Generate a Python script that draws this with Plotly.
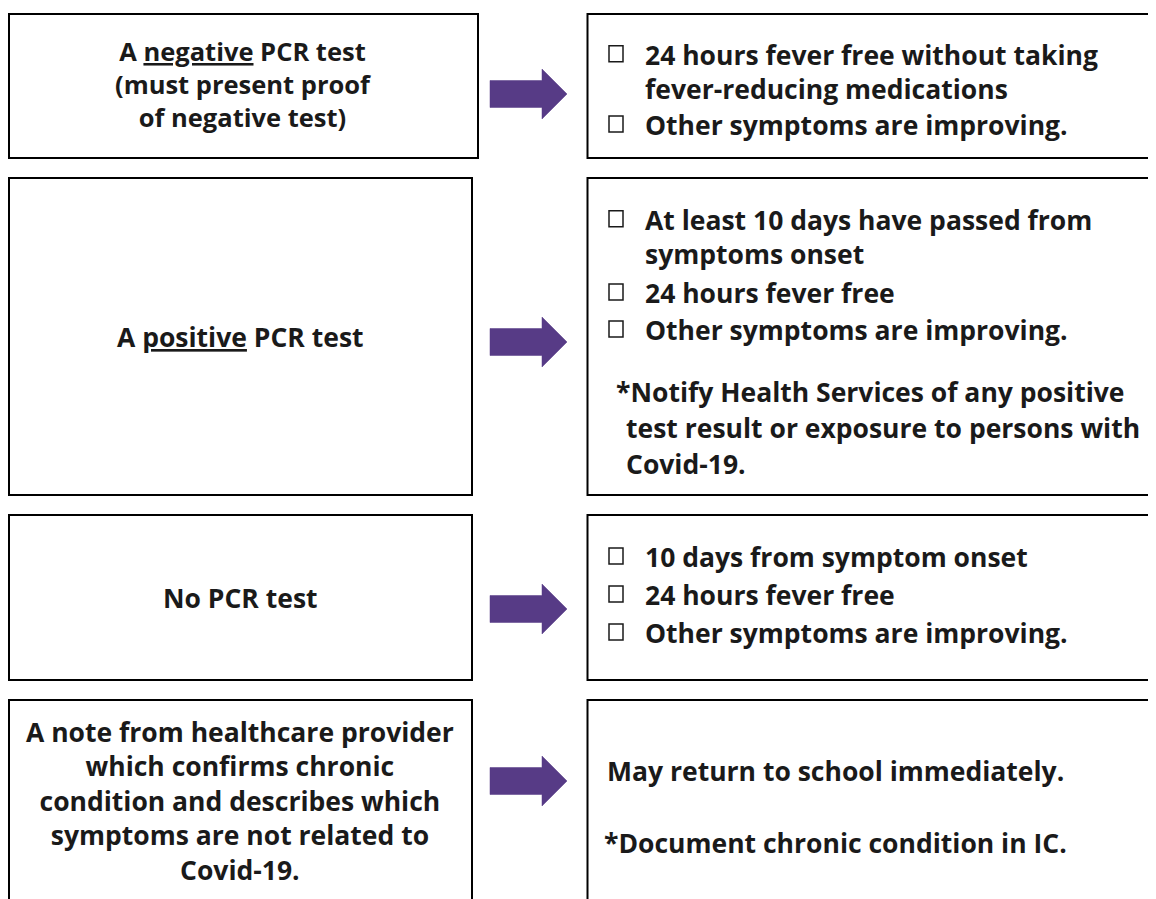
import plotly.graph_objects as go

# ---- content ----
conditions = [
    ["A <u>negative</u> PCR test", "(must present proof", "of negative test)"],
    ["A <u>positive</u> PCR test"],
    ["No PCR test"],
    ["A note from healthcare provider", "which confirms chronic",
     "condition and describes which", "symptoms are not related to", "Covid-19."],
]
criteria = [
    [["24 hours fever free without taking", "fever-reducing medications"],
     ["Other symptoms are improving."]],
    [["At least 10 days have passed from", "symptoms onset"],
     ["24 hours fever free"],
     ["Other symptoms are improving."]],
    [["10 days from symptom onset"],
     ["24 hours fever free"],
     ["Other symptoms are improving."]],
    [],
]
notes = [
    [],
    ["*Notify Health Services of any positive", "test result or exposure to persons with", "Covid-19."],
    [],
    [],
]
centered_results = [[], [], [], ["May return to school immediately.", "*Document chronic condition in IC."]]

# ---- layout geometry (page pixel coordinates; the page body has an 8px margin) ----
OFF = 8
W, H = 1156, 899
rows = [  # (top, bottom, left-box right edge)
    (14, 158, 478),
    (178, 495, 472),
    (515, 680, 472),
    (700, 905, 472),
]
arrow_y = [94, 342, 609, 781]
left_text_y = [84, 337, 598, 801]          # centre of each left text block
left_font = [25.5, 26.5, 26.5, 26.5]
crit_y = [[72, 125], [237, 293, 330], [557, 595, 633], []]   # centre of each item block
note_y = [[], [392, 428, 464], [], []]
note_x = [[], [616, 626, 626], [], []]
result_y = [[], [], [], [771, 843]]

BASE = dict(family="'Open Sans', sans-serif", color="#1a1a1a")
FONT = dict(BASE, size=26.5)
PURPLE = "#573b86"
LINE_H = 26.5 * 1.3

fig = go.Figure()
fig.add_trace(go.Scatter(x=[OFF, W], y=[OFF, H], mode="markers", marker=dict(opacity=0),
                         hoverinfo="skip", showlegend=False))

shapes = []
annotations = []


def note(x, y, text, xanchor, font, align="center"):
    annotations.append(dict(x=x, y=y, xref="x", yref="y", text=text, showarrow=False,
                            xanchor=xanchor, yanchor="middle", align=align, font=font,
                            borderpad=0, borderwidth=0))


for i, (top, bot, lr) in enumerate(rows):
    shapes.append(dict(type="rect", xref="x", yref="y", x0=9, x1=lr, y0=top, y1=bot,
                       line=dict(color="black", width=2), fillcolor="rgba(0,0,0,0)"))
    shapes.append(dict(type="rect", xref="x", yref="y", x0=587.5, x1=W + 10, y0=top, y1=bot,
                       line=dict(color="black", width=2), fillcolor="rgba(0,0,0,0)"))
    ay = arrow_y[i]
    path = (f"M 490,{ay-13.5} L 542,{ay-13.5} L 542,{ay-25} L 567,{ay} "
            f"L 542,{ay+25} L 542,{ay+13.5} L 490,{ay+13.5} Z")
    shapes.append(dict(type="path", xref="x", yref="y", path=path, fillcolor=PURPLE,
                       line=dict(color=PURPLE, width=0.5)))
    cx = (8 + lr) / 2
    note(cx, left_text_y[i], "<b>" + "<br>".join(conditions[i]) + "</b>", "center",
         dict(BASE, size=left_font[i]))
    for item, yc in zip(criteria[i], crit_y[i]):
        first_y = yc - (len(item) - 1) * LINE_H / 2
        shapes.append(dict(type="rect", xref="x", yref="y", x0=609, x1=623,
                           y0=first_y - 9, y1=first_y + 7,
                           line=dict(color="#1a1a1a", width=1.5), fillcolor="rgba(0,0,0,0)"))
        note(645, yc, "<b>" + "<br>".join(item) + "</b>", "left", FONT, align="left")
    for txt, y, x in zip(notes[i], note_y[i], note_x[i]):
        note(x, y, f"<b>{txt}</b>", "left", FONT, align="left")
    for txt, y in zip(centered_results[i], result_y[i]):
        note(835, y, f"<b>{txt}</b>", "center", FONT)

fig.update_layout(
    width=W - OFF, height=H - OFF, autosize=False,
    margin=dict(l=0, r=0, t=0, b=0, pad=0),
    paper_bgcolor="white", plot_bgcolor="white",
    xaxis=dict(range=[OFF, W], visible=False, fixedrange=True),
    yaxis=dict(range=[H, OFF], visible=False, fixedrange=True),
    shapes=shapes, annotations=annotations, showlegend=False,
)
fig.write_html("out.html", config={"displayModeBar": False})
